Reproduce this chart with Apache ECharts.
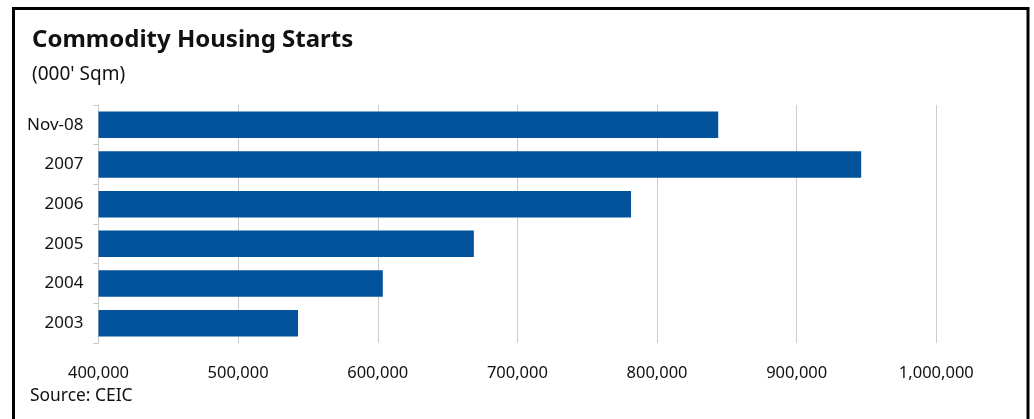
<!DOCTYPE html>
<html>
<head>
<meta charset="utf-8">
<script src="https://cdn.jsdelivr.net/npm/echarts@6/dist/echarts.min.js"></script>
<style>
html,body{margin:0;padding:0;background:#fff;}
#chart{width:1034px;height:419px;}
</style>
</head>
<body>
<div id="chart"></div>
<script>
var categories = ['2003', '2004', '2005', '2006', '2007', 'Nov-08'];
var starts = [542900, 603600, 668800, 781400, 946200, 843800];
var xTicks = {min: 400000, max: 1000000, interval: 100000};
var titleText = 'Commodity Housing Starts';
var unitText = "(000' Sqm)";
var sourceText = 'Source: CEIC';

var FONT = '"Noto Sans", sans-serif';
var chart = echarts.init(document.getElementById('chart'), null, {renderer: 'canvas'});
chart.setOption({
  backgroundColor: '#ffffff',
  animation: false,
  title: [
    {text: titleText, left: 32, top: 28, padding: 0,
     textStyle: {fontFamily: FONT, fontWeight: 'bold', fontSize: 24, color: '#111'}},
    {text: unitText, left: 32, top: 65, padding: 0,
     textStyle: {fontFamily: FONT, fontWeight: 'normal', fontSize: 19, color: '#111'}},
    {text: sourceText, left: 30, top: 388, padding: 0,
     textStyle: {fontFamily: FONT, fontWeight: 'normal', fontSize: 17.4, color: '#111'}}
  ],
  graphic: [{
    type: 'rect', silent: true, z: 100,
    shape: {x: 13.5, y: 8.5, width: 1014.5, height: 440},
    style: {fill: 'none', stroke: '#000', lineWidth: 3}
  }],
  grid: {left: 98.5, right: 97.7, top: 105, bottom: 76, containLabel: false},
  xAxis: {
    type: 'value',
    min: xTicks.min, max: xTicks.max, interval: xTicks.interval,
    axisLine: {show: false},
    axisTick: {show: false},
    splitLine: {show: true, lineStyle: {color: '#cccccc', width: 1}},
    axisLabel: {
      fontFamily: FONT, fontSize: 16.5, color: '#111', margin: 22,
      formatter: function (v) { return v.toLocaleString('en-US'); }
    }
  },
  yAxis: {
    type: 'category',
    data: categories,
    axisLine: {show: true, lineStyle: {color: '#c8c8c8', width: 1}},
    axisTick: {show: true, length: 5, lineStyle: {color: '#c8c8c8'}},
    splitLine: {show: false},
    axisLabel: {fontFamily: FONT, fontSize: 17, color: '#111', margin: 15}
  },
  series: [{
    type: 'bar',
    data: starts,
    barCategoryGap: '33%',
    itemStyle: {color: '#02529c'}
  }]
});
</script>
</body>
</html>
